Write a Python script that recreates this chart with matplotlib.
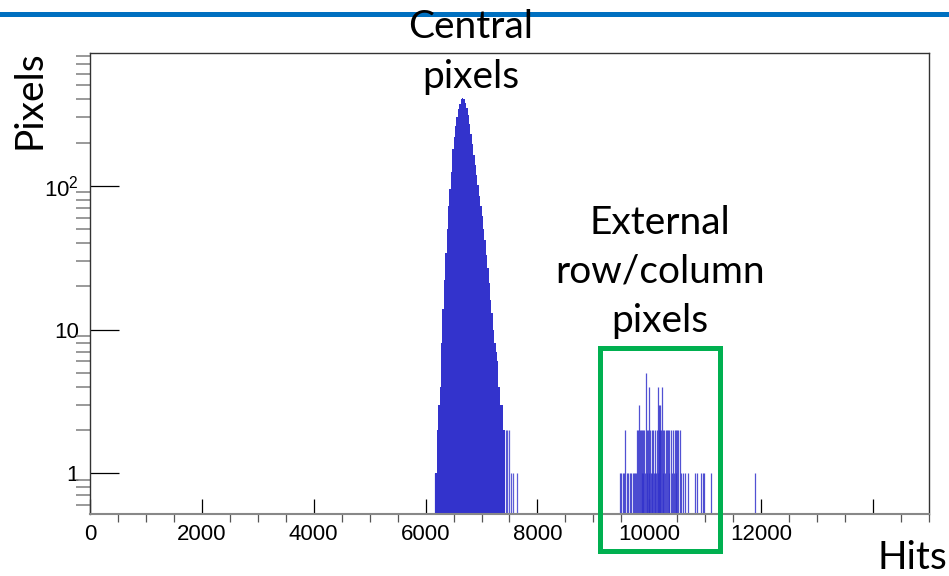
import numpy as np
import matplotlib.pyplot as plt
from matplotlib.patches import Rectangle

plt.rcParams['font.family'] = ['Liberation Sans', 'DejaVu Sans']
plt.rcParams['mathtext.fontset'] = 'custom'
plt.rcParams['mathtext.rm'] = 'Liberation Sans'

# central peak, 25-hit bins starting at 6175
peak_start = 6175
peak_width = 25
peak_counts = [1, 2, 3, 4, 8, 14, 22, 34, 50, 72, 95, 124, 180, 220, 260,
               300, 340, 372, 400, 410, 400, 380, 350, 310, 270, 230, 195,
               165, 140, 118, 102, 85, 72, 62, 50, 42, 33, 27, 21, 16, 13,
               10, 8, 7, 6, 4, 3, 3, 2, 2]

# sparse single bins (tails of the peak and the external rows/columns)
tail_hits = [6160, 7430, 7460, 7500, 7530, 7560, 7630]
tail_counts = [1, 2, 2, 2, 1, 1, 1]

ext_hits = [9476, 9500, 9524, 9548, 9571, 9595, 9625, 9650, 9680, 9700, 9730,
            9750, 9765, 9780, 9795, 9810, 9830, 9845, 9860, 9870, 9881, 9895,
            9905, 9920, 9940, 9950, 9960, 9970, 9988, 10000, 10010, 10025,
            10040, 10055, 10070, 10085, 10100, 10110, 10125, 10140, 10149,
            10160, 10170, 10178, 10190, 10195, 10210, 10226, 10240, 10250,
            10260, 10275, 10290, 10309, 10330, 10345, 10360, 10380, 10400,
            10420, 10440, 10450, 10470, 10480, 10500, 10520, 10548, 10570,
            10600, 10640, 10684, 10821, 10845, 10923, 10960, 10982, 11101,
            11887]
ext_counts = [1, 1, 1, 1, 2, 1, 1, 1, 1, 1, 1,
              1, 1, 2, 2, 3, 2, 2, 1, 2, 2, 1,
              2, 1, 5, 2, 1, 2, 4, 1, 2, 1,
              2, 1, 2, 1, 1, 2, 1, 2, 4,
              1, 2, 3, 2, 3, 2, 4, 2, 1,
              2, 1, 2, 2, 2, 1, 2, 2, 1,
              2, 1, 2, 1, 2, 2, 2, 2, 1,
              1, 1, 1, 1, 1, 1, 1, 1, 1,
              1]

xticks = [0, 2000, 4000, 6000, 8000, 10000, 12000, 14000]
xtick_labels = ['0', '2000', '4000', '6000', '8000', '10000', '12000', '']
yticks = [1, 10, 100]
ytick_labels = ['1', '10', '$10^{2}$']

W, H = 949, 576
fig = plt.figure(figsize=(W / 100, H / 100), dpi=100)
ax = fig.add_axes([90 / W, 1 - 514 / H, 839 / W, 461 / H])

blue = '#3333cc'
edges = peak_start + peak_width * np.arange(len(peak_counts) + 1)
ax.stairs(peak_counts, edges, fill=True, baseline=0.1, color=blue, lw=0)
ax.vlines(tail_hits, 0.1, tail_counts, color=blue, lw=0.9, alpha=0.8)
ax.vlines(ext_hits, 0.1, ext_counts, color=blue, lw=0.9, alpha=0.85)

ax.set_yscale('log')
ax.set_xlim(0, 15000)
ax.set_ylim(0.52, 840)

ax.set_xticks(xticks)
ax.set_xticklabels(xtick_labels)
ax.set_xticks(np.arange(0, 15001, 500), minor=True)
ax.set_yticks(yticks)
ax.set_yticklabels(ytick_labels)
ax.tick_params(axis='both', direction='in', labelsize=16, color='black',
               top=False, right=False)
ax.tick_params(axis='x', which='major', length=11, width=0.9, pad=7)
ax.tick_params(axis='x', which='minor', length=6, width=0.9, color='#555555')
ax.tick_params(axis='y', which='major', length=21, width=0.9, pad=8)
ax.tick_params(axis='y', which='minor', length=10, width=1.2, color='#888888')
for s in ax.spines.values():
    s.set_linewidth(1.0)
    s.set_color('#333333')
ax.spines['bottom'].set_color('#888888')
ax.spines['bottom'].set_linewidth(1.5)

# slide decorations
fig.add_artist(Rectangle((0, 1 - 17 / H), 1, 5 / H, transform=fig.transFigure,
                         color='#0070c0', lw=0))
fig.add_artist(Rectangle((600 / W, 1 - 551 / H), 120 / W, 203 / H,
                         transform=fig.transFigure, fill=False,
                         edgecolor='#00b050', lw=3.6))

tfont = dict(family=['Lato', 'DejaVu Sans'], fontsize=28, color='black')
fig.text(471 / W, 1 - 52 / H, 'Central\npixels', ha='center', va='center',
         linespacing=1.45, **tfont)
fig.text(660 / W, 1 - 272 / H, 'External\nrow/column\npixels', ha='center',
         va='center', linespacing=1.45, **tfont)
fig.text(30 / W, 1 - 100 / H, 'Pixels', rotation=90, ha='center',
         va='center', **tfont)
fig.text(912 / W, 1 - 558 / H, 'Hits', ha='center', va='center', **tfont)

fig.savefig('out.png', dpi=100)
